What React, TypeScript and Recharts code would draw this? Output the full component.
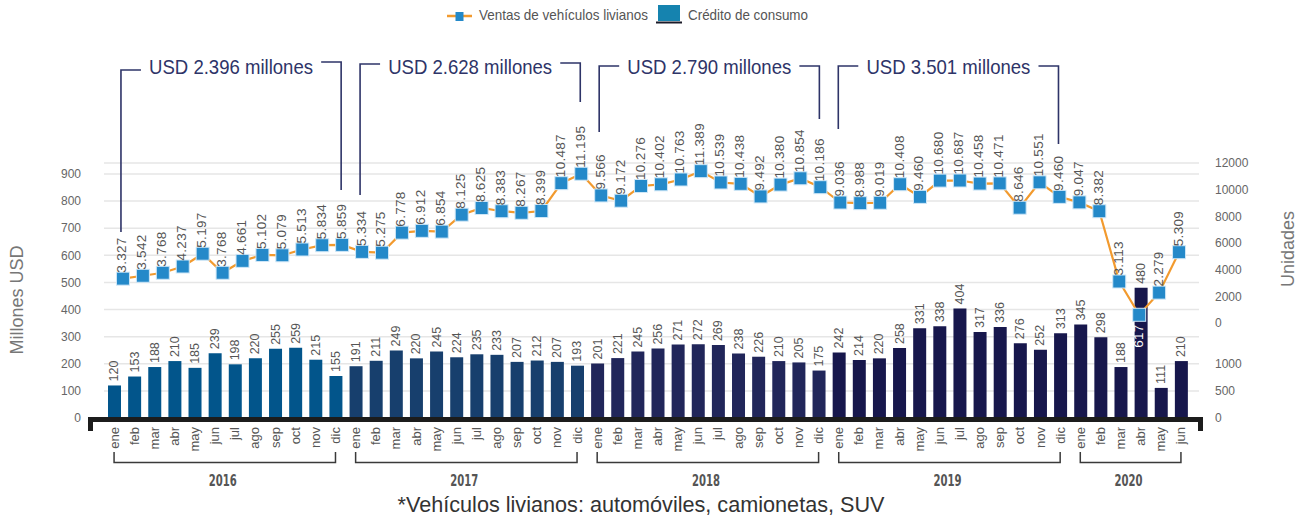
import React from 'react';
import {
  ComposedChart, Bar, Line, XAxis, YAxis, CartesianGrid, Cell, LabelList,
} from 'recharts';

// ---------------- data ----------------
const MONTHS = ['ene', 'feb', 'mar', 'abr', 'may', 'jun', 'jul', 'ago', 'sep', 'oct', 'nov', 'dic'];
const YEARS = ['2016', '2017', '2018', '2019', '2020'];

// Crédito de consumo (Millones USD)
const CREDITO = [
  120, 153, 188, 210, 185, 239, 198, 220, 255, 259, 215, 155,
  191, 211, 249, 220, 245, 224, 235, 233, 207, 212, 207, 193,
  201, 221, 245, 256, 271, 272, 269, 238, 226, 210, 205, 175,
  242, 214, 220, 258, 331, 338, 404, 317, 336, 276, 252, 313,
  345, 298, 188, 480, 111, 210,
];

// Ventas de vehículos livianos (Unidades)
const VENTAS = [
  3327, 3542, 3768, 4237, 5197, 3768, 4661, 5102, 5079, 5513, 5834, 5859,
  5334, 5275, 6778, 6912, 6854, 8125, 8625, 8383, 8267, 8399, 10487, 11195,
  9566, 9172, 10276, 10402, 10763, 11389, 10539, 10438, 9492, 10380, 10854, 10186,
  9036, 8988, 9019, 10408, 9460, 10680, 10687, 10458, 10471, 8646, 10551, 9460,
  9047, 8382, 3113, 617, 2279, 5309,
];

const LEFT_TICKS = [0, 100, 200, 300, 400, 500, 600, 700, 800, 900];
const RIGHT_TICKS = [0, 2000, 4000, 6000, 8000, 10000, 12000];
const LOWER_RIGHT_TICKS = [0, 500, 1000];
const LOWER_RIGHT_SCALE = 5;

const ANNOTATIONS = ['USD 2.396 millones', 'USD 2.628 millones', 'USD 2.790 millones', 'USD 3.501 millones'];
const LEGEND_VENTAS = 'Ventas de vehículos livianos';
const LEGEND_CREDITO = 'Crédito de consumo';
const LEFT_TITLE = 'Millones USD';
const RIGHT_TITLE = 'Unidades';
const FOOTNOTE = '*Vehículos livianos: automóviles, camionetas, SUV';
const INSIDE_LABEL_KEY = '2020-abr';

// ---------------- layout / style ----------------
const W = 1311;
const H = 521;
const PLOT_L = 104;
const PLOT_R = 1199;
const PLOT_T = 163;
const PLOT_B = 418;
const LEFT_TOP_TICK_Y = 174; // pixel of 900
const RIGHT_ZERO_Y = 323;    // pixel of 0 units

const LPX = (PLOT_B - LEFT_TOP_TICK_Y) / 900;
const LMAX = (PLOT_B - PLOT_T) / LPX;
const RMAX = 12000;
const RPX = (RIGHT_ZERO_Y - PLOT_T) / RMAX;
const RMIN = -(PLOT_B - RIGHT_ZERO_Y) / RPX;
const toR = (lower: number) => RMIN + (lower / LOWER_RIGHT_SCALE) * LPX / RPX;

const BAR_PAD = { left: 0, right: 8 };
const LINE_PAD = { left: 9, right: 10 };

const FONT = "'Liberation Sans', Arial, Helvetica, sans-serif";
const NARROW = "'Liberation Sans Narrow', 'DejaVu Sans Condensed', 'Liberation Sans', sans-serif";

const YEAR_COLORS = ['#02558B', '#173F6D', '#21265A', '#17174C', '#17174C'];
const LINE_COLOR = '#F29A2E';
const MARKER_COLOR = '#2489C9';
const NAVY = '#2E3468';

const N = CREDITO.length;
const data = CREDITO.map((c, i) => ({
  key: `${YEARS[Math.floor(i / 12)]}-${MONTHS[i % 12]}`,
  month: MONTHS[i % 12],
  year: YEARS[Math.floor(i / 12)],
  credito: c,
  ventas: VENTAS[i],
}));

const rightTickLabels = new Map<number, string>();
RIGHT_TICKS.forEach((t) => rightTickLabels.set(t, String(t)));
LOWER_RIGHT_TICKS.forEach((t) => rightTickLabels.set(toR(t), String(t)));
const rightTicks = Array.from(rightTickLabels.keys());

const fmt = (v: number) => String(v).replace(/\B(?=(\d{3})+(?!\d))/g, '.');

const BAR_BAND = (PLOT_R - PLOT_L - BAR_PAD.left - BAR_PAD.right) / N;
const LINE_BAND = (PLOT_R - PLOT_L - LINE_PAD.left - LINE_PAD.right) / N;
const barX = (i: number) => PLOT_L + BAR_PAD.left + (i + 0.5) * BAR_BAND;
const lineX = (i: number) => PLOT_L + LINE_PAD.left + (i + 0.5) * LINE_BAND;

// annotation decoration (pixel styling)
const ANN_LEFT_Y = [70, 64, 66, 66];
const ANN_RIGHT_Y = [62, 63, 66, 66];
const ANN_LEFT_END = [232, 195, 132, 129];
const ANN_RIGHT_END = [190, 102, 119, 144];

// ---------------- renderers ----------------
const MonthTick = (props: any) => {
  const { x, y, payload } = props;
  const label = String(payload.value).split('-')[1] ?? payload.value;
  return (
    <text
      x={x}
      y={y}
      transform={`rotate(-90, ${x}, ${y})`}
      textAnchor="end"
      dominantBaseline="central"
      fontSize={13}
      fill="#555"
      fontFamily={FONT}
    >
      {label}
    </text>
  );
};

const BarValueLabel = (props: any) => {
  const { x, y, width, value } = props;
  const cx = x + width / 2;
  const ty = y - 4;
  return (
    <text
      x={cx}
      y={ty}
      transform={`rotate(-90, ${cx}, ${ty})`}
      textAnchor="start"
      dominantBaseline="central"
      fontSize={12.5}
      fill="#555"
      fontFamily={FONT}
    >
      {value}
    </text>
  );
};

const VentasLabel = (props: any) => {
  const { x, y, value, index } = props;
  const inside = data[index] && data[index].key === INSIDE_LABEL_KEY;
  const ty = inside ? y + 33 : y - 6;
  return (
    <text
      x={x - 1}
      y={ty}
      transform={`rotate(-90, ${x - 1}, ${ty})`}
      textAnchor="start"
      dominantBaseline="central"
      fontSize={13.5}
      letterSpacing={0.3}
      fill={inside ? '#ffffff' : '#555'}
      fontFamily={FONT}
    >
      {fmt(value)}
    </text>
  );
};

const SquareDot = (props: any) => {
  const { cx, cy, index } = props;
  if (cx == null || cy == null) return <g key={`d-${index}`} />;
  return (
    <rect
      key={`d-${index}`}
      x={cx - 6.5}
      y={cy - 6.5}
      width={13}
      height={13}
      fill={MARKER_COLOR}
      stroke="#CFE7F7"
      strokeWidth={1}
    />
  );
};

// ---------------- overlay ----------------
const Overlay = () => {
  const groups = YEARS.map((y, g) => {
    const first = g * 12;
    const last = Math.min(first + 11, N - 1);
    return { year: y, first, last };
  });
  return (
    <svg
      width={W}
      height={H}
      style={{ position: 'absolute', left: 0, top: 0, pointerEvents: 'none' }}
    >
      {/* legend */}
      <line x1={447} y1={16} x2={472} y2={16} stroke={LINE_COLOR} strokeWidth={2.5} />
      <rect x={455.5} y={12} width={8} height={9} fill={MARKER_COLOR} />
      <text x={479} y={15} dominantBaseline="central" fontSize={14.5} fill="#555" fontFamily={FONT} textLength={169} lengthAdjust="spacingAndGlyphs">
        {LEGEND_VENTAS}
      </text>
      <rect x={658} y={5} width={22} height={16} fill="#1583AF" />
      <line x1={656} y1={22.5} x2={682} y2={22.5} stroke="#1a1a28" strokeWidth={2} />
      <text x={688} y={15} dominantBaseline="central" fontSize={14.5} fill="#555" fontFamily={FONT} textLength={120} lengthAdjust="spacingAndGlyphs">
        {LEGEND_CREDITO}
      </text>

      {/* annotations */}
      {ANNOTATIONS.map((t, g) => {
        const xl = lineX(g * 12) - 2;
        const xr = lineX(g * 12 + 11) - 1;
        const mid = (xl + xr) / 2;
        return (
          <g key={t}>
            <path
              d={`M ${xl + 20} ${ANN_LEFT_Y[g]} H ${xl} V ${ANN_LEFT_END[g]}`}
              fill="none"
              stroke={NAVY}
              strokeWidth={1.6}
            />
            <path
              d={`M ${xr - 20} ${ANN_RIGHT_Y[g]} H ${xr} V ${ANN_RIGHT_END[g]}`}
              fill="none"
              stroke={NAVY}
              strokeWidth={1.6}
            />
            <text
              x={mid}
              y={66}
              textAnchor="middle"
              dominantBaseline="central"
              fontSize={21}
              fill={NAVY}
              fontFamily={FONT}
              textLength={164}
              lengthAdjust="spacingAndGlyphs"
            >
              {t}
            </text>
          </g>
        );
      })}

      {/* thick base axis */}
      <path
        d={`M 90.5 431 V 419.5 H 1200.5 V 431`}
        fill="none"
        stroke="#1c1c1c"
        strokeWidth={5}
        strokeLinejoin="miter"
      />

      {/* year brackets */}
      {groups.map((gr) => {
        const x1 = barX(gr.first);
        const x2 = barX(gr.last);
        return (
          <g key={gr.year}>
            <path
              d={`M ${x1} 452 V 462.5 H ${x2} V 452`}
              fill="none"
              stroke="#3a3a3a"
              strokeWidth={1.5}
            />
            <text
              x={(x1 + x2) / 2 - 2}
              y={480}
              textAnchor="middle"
              dominantBaseline="central"
              fontSize={16}
              fontWeight="bold"
              fill="#555"
              fontFamily={NARROW}
              textLength={28}
              lengthAdjust="spacingAndGlyphs"
            >
              {gr.year}
            </text>
          </g>
        );
      })}

      {/* axis titles */}
      <text
        x={17}
        y={300}
        transform="rotate(-90, 17, 300)"
        textAnchor="middle"
        dominantBaseline="central"
        fontSize={18}
        fill="#777"
        fontFamily={FONT}
      >
        {LEFT_TITLE}
      </text>
      <text
        x={1288}
        y={249}
        transform="rotate(-90, 1288, 249)"
        textAnchor="middle"
        dominantBaseline="central"
        fontSize={18}
        fill="#777"
        fontFamily={FONT}
      >
        {RIGHT_TITLE}
      </text>

      {/* footnote */}
      <text
        x={641}
        y={504}
        textAnchor="middle"
        dominantBaseline="central"
        fontSize={22}
        fill="#333"
        fontFamily={FONT}
        textLength={487}
        lengthAdjust="spacingAndGlyphs"
      >
        {FOOTNOTE}
      </text>
    </svg>
  );
};

export default function App() {
  return (
    <div style={{ position: 'absolute', left: 0, top: 0, width: W, height: H, background: '#fff' }}>
      <ComposedChart
        width={W}
        height={H}
        data={data}
        margin={{ top: PLOT_T, right: 0, bottom: 0, left: 0 }}
      >
        <CartesianGrid
          vertical={false}
          xAxisId="bx"
          yAxisId="l"
          stroke="#E6E6E6"
          strokeWidth={1.5}
        />
        <XAxis
          xAxisId="bx"
          dataKey="key"
          scale="band"
          interval={0}
          height={H - PLOT_B}
          padding={BAR_PAD}
          axisLine={false}
          tickLine={false}
          tickSize={0}
          tickMargin={9}
          tick={(p: any) => <MonthTick {...p} />}
        />
        <XAxis
          xAxisId="lx"
          dataKey="key"
          scale="band"
          hide
          padding={LINE_PAD}
        />
        <YAxis
          yAxisId="l"
          orientation="left"
          width={PLOT_L}
          domain={[0, LMAX]}
          ticks={LEFT_TICKS}
          interval={0}
          axisLine={false}
          tickLine={false}
          tickSize={0}
          tickMargin={23}
          tick={{ fontSize: 12, fill: '#666', fontFamily: FONT }}
        />
        <YAxis
          yAxisId="r"
          orientation="right"
          width={W - PLOT_R}
          domain={[RMIN, RMAX]}
          ticks={rightTicks}
          interval={0}
          axisLine={false}
          tickLine={false}
          tickSize={0}
          tickMargin={16}
          tickFormatter={(v: number) => rightTickLabels.get(v) ?? String(v)}
          tick={{ fontSize: 12, fill: '#666', fontFamily: FONT }}
        />
        <Bar
          dataKey="credito"
          name={LEGEND_CREDITO}
          xAxisId="bx"
          yAxisId="l"
          barSize={13}
          isAnimationActive={false}
        >
          {data.map((d, i) => (
            <Cell key={`c-${i}`} fill={YEAR_COLORS[YEARS.indexOf(d.year)]} />
          ))}
          <LabelList dataKey="credito" content={(p: any) => <BarValueLabel {...p} />} />
        </Bar>
        <Line
          dataKey="ventas"
          name={LEGEND_VENTAS}
          xAxisId="lx"
          yAxisId="r"
          stroke={LINE_COLOR}
          strokeWidth={2.2}
          dot={(p: any) => <SquareDot {...p} />}
          activeDot={false}
          isAnimationActive={false}
        >
          <LabelList dataKey="ventas" content={(p: any) => <VentasLabel {...p} />} />
        </Line>
      </ComposedChart>
      <Overlay />
    </div>
  );
}
